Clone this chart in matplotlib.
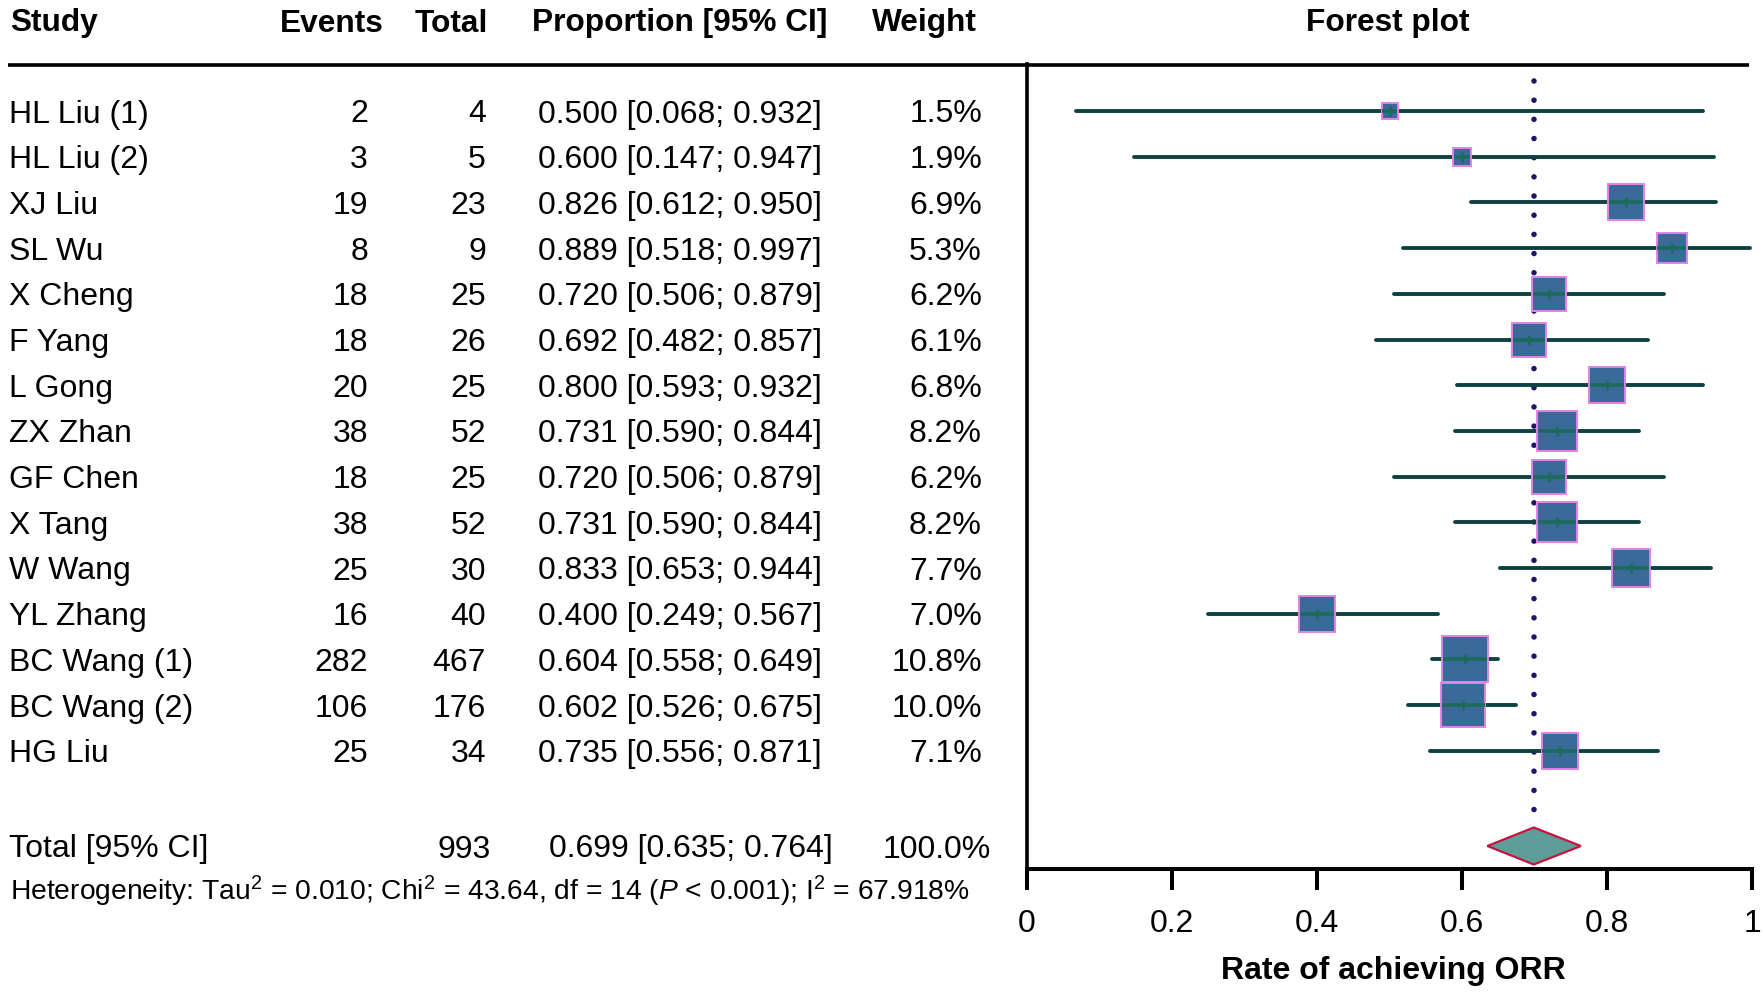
import numpy as np
import matplotlib
matplotlib.use("Agg")
import matplotlib.pyplot as plt
from matplotlib.transforms import blended_transform_factory
from matplotlib.patches import Polygon
from matplotlib.lines import Line2D

plt.rcParams["font.family"] = ["Liberation Sans", "DejaVu Sans"]
plt.rcParams["mathtext.fontset"] = "custom"
plt.rcParams["mathtext.rm"] = "Liberation Sans"
plt.rcParams["mathtext.it"] = "Liberation Sans:italic"
plt.rcParams["mathtext.bf"] = "Liberation Sans:bold"

# ---------------- data ----------------
studies = ["HL Liu (1)", "HL Liu (2)", "XJ Liu", "SL Wu", "X Cheng", "F Yang", "L Gong",
           "ZX Zhan", "GF Chen", "X Tang", "W Wang", "YL Zhang", "BC Wang (1)",
           "BC Wang (2)", "HG Liu"]
events = [2, 3, 19, 8, 18, 18, 20, 38, 18, 38, 25, 16, 282, 106, 25]
totals = [4, 5, 23, 9, 25, 26, 25, 52, 25, 52, 30, 40, 467, 176, 34]
prop = [0.500, 0.600, 0.826, 0.889, 0.720, 0.692, 0.800, 0.731, 0.720, 0.731, 0.833,
        0.400, 0.604, 0.602, 0.735]
lower = [0.068, 0.147, 0.612, 0.518, 0.506, 0.482, 0.593, 0.590, 0.506, 0.590, 0.653,
         0.249, 0.558, 0.526, 0.556]
upper = [0.932, 0.947, 0.950, 0.997, 0.879, 0.857, 0.932, 0.844, 0.879, 0.844, 0.944,
         0.567, 0.649, 0.675, 0.871]
weights = [1.5, 1.9, 6.9, 5.3, 6.2, 6.1, 6.8, 8.2, 6.2, 8.2, 7.7, 7.0, 10.8, 10.0, 7.1]

pooled_est = 0.699
pooled_lo = 0.635
pooled_hi = 0.764
pooled_n = 993
pooled_weight = "100.0%"

headers = ["Study", "Events", "Total", "Proportion [95% CI]", "Weight", "Forest plot"]
total_label = "Total [95% CI]"
het_text = (r"Heterogeneity: Tau$^2$ = 0.010; Chi$^2$ = 43.64, df = 14 "
            r"($P$ < 0.001); I$^2$ = 67.918%")
xticks = [0, 0.2, 0.4, 0.6, 0.8, 1.0]
xticklabels = ["0", "0.2", "0.4", "0.6", "0.8", "1"]
xlabel = "Rate of achieving ORR"

# ---------------- layout ----------------
W, H = 1764, 1000
fig = plt.figure(figsize=(W / 100, H / 100), dpi=100)
ax_l, ax_r, ax_t, ax_b = 1027, 1752, 64, 869
ax = fig.add_axes([ax_l / W, 1 - ax_b / H, (ax_r - ax_l) / W, (ax_b - ax_t) / H])
row_px = 45.7
first_row = 111
y_top = -(first_row - ax_t) / row_px
y_bot = (ax_b - first_row) / row_px
ax.set_xlim(0, 1)
ax.set_ylim(y_bot, y_top)

n = len(studies)
rows = np.arange(n)
total_row = (846 - first_row) / row_px
het_row = (891 - first_row) / row_px
head_row = (20 - first_row) / row_px
base_off = 11.5 / row_px

tr = blended_transform_factory(fig.transFigure, ax.transData)
FS = 23
FSB = 22.8

def put(xpx, yrow, s, ha="left", bold=False, size=None, off=base_off):
    fig.text(xpx / W, yrow + off, s, transform=tr, ha=ha, va="baseline",
             fontsize=size if size else (FSB if bold else FS),
             fontweight="bold" if bold else "normal", color="black")

# headers
put(10, head_row, headers[0], bold=True)
put(384, head_row, headers[1], ha="right", bold=True)
put(488, head_row, headers[2], ha="right", bold=True)
put(532, head_row, headers[3], bold=True)
put(977, head_row, headers[4], ha="right", bold=True)
put(1388, head_row, headers[5], ha="center", bold=True)

# study rows
for i in range(n):
    put(9, rows[i], studies[i])
    put(368, rows[i], str(events[i]), ha="right")
    put(486, rows[i], str(totals[i]), ha="right")
    put(538, rows[i], f"{prop[i]:.3f} [{lower[i]:.3f}; {upper[i]:.3f}]")
    put(982, rows[i], f"{weights[i]:.1f}%", ha="right")

# total row
put(9, total_row, total_label)
put(491, total_row, str(pooled_n), ha="right")
put(549, total_row, f"{pooled_est:.3f} [{pooled_lo:.3f}; {pooled_hi:.3f}]")
put(991, total_row, pooled_weight, ha="right")
put(10, het_row, het_text, size=20.3, off=9.5 / row_px)

# top rule
fig.add_artist(Line2D([8 / W, 1749 / W], [1 - 65 / H, 1 - 65 / H], lw=2.6,
                      color="black", solid_capstyle="butt"))

# reference line
ax.plot([pooled_est, pooled_est], [y_top + 0.37, total_row - 0.42], color="#201468",
        lw=4.0, linestyle=(0, (0.001, 3.45)), dash_capstyle="round", zorder=1)

# CI lines and squares
ci_col = "#0d4242"
ax_w_px = ax_r - ax_l
for i in range(n):
    ax.plot([lower[i], upper[i]], [rows[i], rows[i]], color=ci_col, lw=2.8,
            solid_capstyle="round", zorder=2)
    side_px = 14.3 * np.sqrt(weights[i])
    ax.plot([prop[i]], [rows[i]], marker="s", markersize=side_px * 0.72 - 1.4,
            markerfacecolor="#3a6a98", markeredgecolor="#e282ea", markeredgewidth=1.4,
            linestyle="none", zorder=3)
    hw = (side_px / 2 - 1.5) / ax_w_px
    ax.plot([prop[i] - hw, prop[i] + hw], [rows[i], rows[i]], color="#1c6a5c", lw=2.6,
            solid_capstyle="butt", zorder=4)
    ax.plot([prop[i]], [rows[i]], marker="+", markersize=7, markeredgewidth=2,
            color="#1c6a5c", linestyle="none", zorder=4)

# diamond
dh = 18.5 / row_px
diamond = Polygon([[pooled_lo, total_row], [pooled_est, total_row - dh],
                   [pooled_hi, total_row], [pooled_est, total_row + dh]],
                  closed=True, facecolor="#5f9e98", edgecolor="#c4153f", lw=1.6, zorder=3)
ax.add_patch(diamond)

# axes styling
for s in ["top", "right"]:
    ax.spines[s].set_visible(False)
ax.spines["left"].set_linewidth(2.6)
ax.spines["bottom"].set_linewidth(2.9)
ax.spines["bottom"].set_capstyle("projecting")
ax.set_yticks([])
ax.set_xticks(xticks)
ax.set_xticklabels(xticklabels, fontsize=23)
ax.tick_params(axis="x", length=15, width=2.9, pad=14, direction="out", color="black")
fig.text(1393 / W, 1 - 979 / H, xlabel, ha="center", va="baseline", fontsize=23,
         fontweight="bold")

fig.savefig("out.png", dpi=100, facecolor="white")
